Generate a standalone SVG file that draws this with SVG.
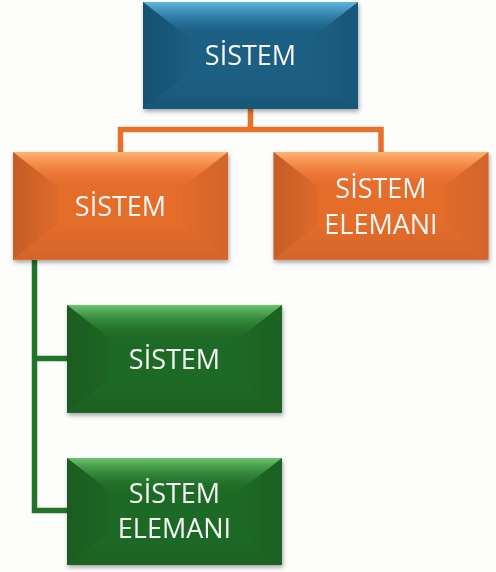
<svg xmlns="http://www.w3.org/2000/svg" width="496" height="572" viewBox="0 0 496 572">
<defs>
<filter id="sh" x="-10%" y="-10%" width="125%" height="130%">
<feDropShadow dx="1" dy="2.5" stdDeviation="2" flood-color="#000" flood-opacity="0.35"/>
</filter>
<linearGradient id="tb" x1="0" y1="0" x2="0" y2="1">
<stop offset="0" stop-color="#5fb8e2"/>
<stop offset="0.45" stop-color="#3f8fb8" stop-opacity="0.6"/>
<stop offset="1" stop-color="#1b5f83" stop-opacity="0"/>
</linearGradient>
<linearGradient id="to" x1="0" y1="0" x2="0" y2="1">
<stop offset="0" stop-color="#ffb472"/>
<stop offset="0.45" stop-color="#f79450" stop-opacity="0.6"/>
<stop offset="1" stop-color="#e56d2c" stop-opacity="0"/>
</linearGradient>
<linearGradient id="tg" x1="0" y1="0" x2="0" y2="1">
<stop offset="0" stop-color="#6cc46f"/>
<stop offset="0.45" stop-color="#409a46" stop-opacity="0.6"/>
<stop offset="1" stop-color="#1f6a26" stop-opacity="0"/>
</linearGradient>
<linearGradient id="gLeft" x1="0" y1="0" x2="1" y2="0">
<stop offset="0" stop-color="#000" stop-opacity="0.14"/>
<stop offset="1" stop-color="#000" stop-opacity="0.03"/>
</linearGradient>
<linearGradient id="gRight" x1="1" y1="0" x2="0" y2="0">
<stop offset="0" stop-color="#000" stop-opacity="0.08"/>
<stop offset="1" stop-color="#000" stop-opacity="0.02"/>
</linearGradient>
<linearGradient id="gBot" x1="0" y1="1" x2="0" y2="0">
<stop offset="0" stop-color="#000" stop-opacity="0.08"/>
<stop offset="1" stop-color="#000" stop-opacity="0"/>
</linearGradient>
<path id="topT" d="M0,0 H215 L170,35 H45 Z"/>
<g id="bevel">
<path d="M0,0 L45,35 V72 L0,107 Z" fill="url(#gLeft)"/>
<path d="M215,0 L170,35 V72 L215,107 Z" fill="url(#gRight)"/>
<path d="M0,107 L45,72 H170 L215,107 Z" fill="url(#gBot)"/>
</g>
</defs>
<style>
.t{font-family:"Open Sans","Noto Sans","Liberation Sans",sans-serif;font-size:27px;fill:#f7f7f7;text-anchor:middle}
.blue{fill:#1b5f83}
.orange{fill:#e56d2c}
.green{fill:#1f6a26}
.co{fill:none;stroke:#e8702b;stroke-width:5.5}
.cg{fill:none;stroke:#217528;stroke-width:5.5}
</style>
<rect width="496" height="572" fill="#fdfdfc"/>
<g id="connectors">
<path class="co" d="M250.5,109 V129.5 M120.5,152 V129.5 H381 V152"/>
<path class="cg" d="M34.5,260 V510.5 H67 M34.5,358.5 H67"/>
</g>
<g id="n1" filter="url(#sh)" transform="translate(143,2)">
<rect class="blue" width="215" height="107"/>
<use href="#topT" fill="url(#tb)"/>
<use href="#bevel"/>
<text class="t" x="107.5" y="63">SİSTEM</text>
</g>
<g id="n2" filter="url(#sh)" transform="translate(13,152)">
<rect class="orange" width="215" height="108"/>
<use href="#topT" fill="url(#to)"/>
<use href="#bevel"/>
<text class="t" x="107.5" y="63.5">SİSTEM</text>
</g>
<g id="n3" filter="url(#sh)" transform="translate(273.5,152)">
<rect class="orange" width="215" height="108"/>
<use href="#topT" fill="url(#to)"/>
<use href="#bevel"/>
<text class="t" x="107.5" y="45.5">SİSTEM</text>
<text class="t" x="107.5" y="81.5">ELEMANI</text>
</g>
<g id="n4" filter="url(#sh)" transform="translate(67,305)">
<rect class="green" width="215" height="108"/>
<use href="#topT" fill="url(#tg)"/>
<use href="#bevel"/>
<text class="t" x="107.5" y="64">SİSTEM</text>
</g>
<g id="n5" filter="url(#sh)" transform="translate(67,458)">
<rect class="green" width="215" height="107"/>
<use href="#topT" fill="url(#tg)"/>
<use href="#bevel"/>
<text class="t" x="107.5" y="45">SİSTEM</text>
<text class="t" x="107.5" y="79.5">ELEMANI</text>
</g>
</svg>
